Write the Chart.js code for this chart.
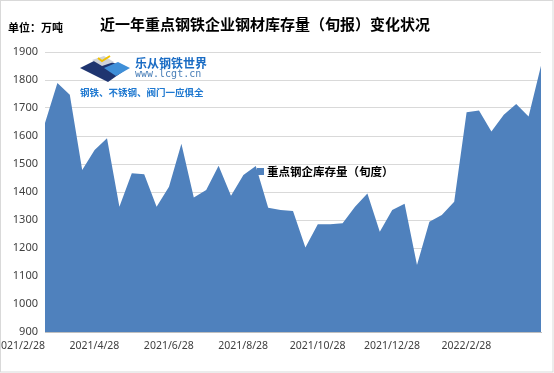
<!DOCTYPE html>
<html lang="zh-CN">
<head>
    <meta charset="UTF-8">
    <title>近一年重点钢铁企业钢材库存量（旬报）变化状况</title>
    <script src="https://cdn.jsdelivr.net/npm/chart.js"></script>
    <style>
        html, body {
            margin: 0;
            padding: 0;
            background: #ffffff;
        }
        .chart-container {
            position: relative;
            width: 554px;
            height: 373px;
        }
    </style>
</head>
<body>
    <div class="chart-container">
        <canvas id="myChart"></canvas>
    </div>

    <script>
        // 旬度日期（只显示每隔6个的标签）
        const dates = [
            '2021/2/28', '2021/3/10', '2021/3/20', '2021/3/31', '2021/4/10', '2021/4/20',
            '2021/4/28', '2021/5/10', '2021/5/20', '2021/5/31', '2021/6/10', '2021/6/20',
            '2021/6/28', '2021/7/10', '2021/7/20', '2021/7/31', '2021/8/10', '2021/8/20',
            '2021/8/28', '2021/9/10', '2021/9/20', '2021/9/30', '2021/10/10', '2021/10/20',
            '2021/10/28', '2021/11/10', '2021/11/20', '2021/11/30', '2021/12/10', '2021/12/20',
            '2021/12/28', '2022/1/10', '2022/1/20', '2022/1/31', '2022/2/10', '2022/2/20',
            '2022/2/28', '2022/3/10', '2022/3/20', '2022/3/31', '2022/4/10'
        ];
        // 重点钢企库存量（万吨）
        const stockValues = [
            1646, 1789, 1747, 1479, 1550, 1592, 1347, 1467, 1463, 1347,
            1419, 1572, 1380, 1407, 1494, 1387, 1461, 1493, 1344, 1336,
            1332, 1202, 1285, 1285, 1288, 1347, 1395, 1258, 1336, 1358,
            1139, 1294, 1318, 1365, 1685, 1691, 1616, 1676, 1714, 1670, 1851
        ];
        const seriesName = '重点钢企库存量（旬度）';
        const chartTitle = '近一年重点钢铁企业钢材库存量（旬报）变化状况';
        const unitText = '单位：万吨';
        const yMin = 900, yMax = 1900, yStep = 100;

        const cjk = '"Noto Sans CJK SC", "Noto Sans", sans-serif';
        const fillBlue = '#4f81bd';

        // 标题、单位、图例、水印、边框
        const decorations = {
            id: 'decorations',
            afterDraw(chart) {
                const ctx = chart.ctx;
                ctx.save();

                // 外框
                ctx.strokeStyle = '#d9d9d9';
                ctx.lineWidth = 1;
                ctx.strokeRect(0.5, 0.5, chart.width - 1.5, chart.height - 1.5);

                // 标题
                ctx.fillStyle = '#000000';
                ctx.textBaseline = 'middle';
                ctx.textAlign = 'center';
                ctx.font = 'bold 15px ' + cjk;
                ctx.fillText(chartTitle, 265, 24);

                ctx.textAlign = 'left';
                ctx.font = 'bold 11px ' + cjk;
                ctx.fillText(unitText, 8, 28);

                // 图例
                ctx.fillStyle = fillBlue;
                ctx.fillRect(257, 168, 7, 7);
                ctx.fillStyle = '#000000';
                ctx.font = 'bold 11.5px ' + cjk;
                ctx.fillText(seriesName, 267, 172);

                // 水印 logo（简单示意）
                ctx.fillStyle = '#1f3570';
                ctx.beginPath();
                ctx.moveTo(80, 68); ctx.lineTo(100, 58); ctx.lineTo(128, 68); ctx.lineTo(108, 82);
                ctx.closePath(); ctx.fill();
                ctx.fillStyle = '#3f8fd8';
                ctx.beginPath();
                ctx.moveTo(104, 68); ctx.lineTo(118, 62); ctx.lineTo(130, 68); ctx.lineTo(116, 76);
                ctx.closePath(); ctx.fill();
                ctx.fillStyle = '#d0d4da';
                ctx.beginPath();
                ctx.moveTo(92, 60); ctx.lineTo(104, 56); ctx.lineTo(114, 62); ctx.lineTo(102, 66);
                ctx.closePath(); ctx.fill();
                ctx.strokeStyle = '#f2c200';
                ctx.lineWidth = 2;
                ctx.beginPath();
                ctx.moveTo(98, 58); ctx.lineTo(102, 61); ctx.lineTo(110, 56);
                ctx.stroke();

                ctx.fillStyle = '#1a6cc4';
                ctx.font = 'bold 12px ' + cjk;
                ctx.fillText('乐从钢铁世界', 135, 63);
                ctx.fillStyle = '#4a7fb8';
                ctx.font = '10px "DejaVu Sans Mono", monospace';
                ctx.fillText('www.lcgt.cn', 135, 74);
                ctx.fillStyle = '#1e78d0';
                ctx.font = 'bold 9.5px ' + cjk;
                ctx.fillText('钢铁、不锈钢、阀门一应俱全', 80, 92);

                ctx.restore();
            }
        };

        const ctx = document.getElementById('myChart').getContext('2d');
        new Chart(ctx, {
            type: 'line',
            data: {
                labels: dates,
                datasets: [{
                    label: seriesName,
                    data: stockValues,
                    fill: 'start',
                    backgroundColor: fillBlue,
                    borderWidth: 0,
                    pointRadius: 0,
                    tension: 0
                }]
            },
            options: {
                responsive: true,
                maintainAspectRatio: false,
                animation: false,
                layout: {
                    padding: { top: 52, right: 13, left: 0, bottom: 0 }
                },
                plugins: {
                    legend: { display: false },
                    tooltip: { enabled: false }
                },
                scales: {
                    x: {
                        offset: false,
                        afterFit(scale) { scale.height = 41; },
                        grid: { display: false, drawTicks: false },
                        border: { display: true, color: '#bfbfbf' },
                        ticks: {
                            autoSkip: false,
                            maxRotation: 0,
                            minRotation: 0,
                            padding: 8,
                            labelOffset: -25,
                            color: '#404040',
                            font: { family: '"Noto Sans", sans-serif', size: 10.5 },
                            callback: function (val, index) {
                                return index % 6 === 0 ? dates[index] : '';
                            }
                        }
                    },
                    y: {
                        min: yMin,
                        max: yMax,
                        afterFit(scale) { scale.width = 45; },
                        grid: { color: '#d9d9d9', drawTicks: false },
                        border: { display: false },
                        ticks: {
                            stepSize: yStep,
                            padding: 7,
                            color: '#404040',
                            font: { family: '"Noto Sans", sans-serif', size: 11 },
                            callback: function (value) {
                                return String(value);
                            }
                        }
                    }
                }
            },
            plugins: [decorations]
        });
    </script>
</body>
</html>
